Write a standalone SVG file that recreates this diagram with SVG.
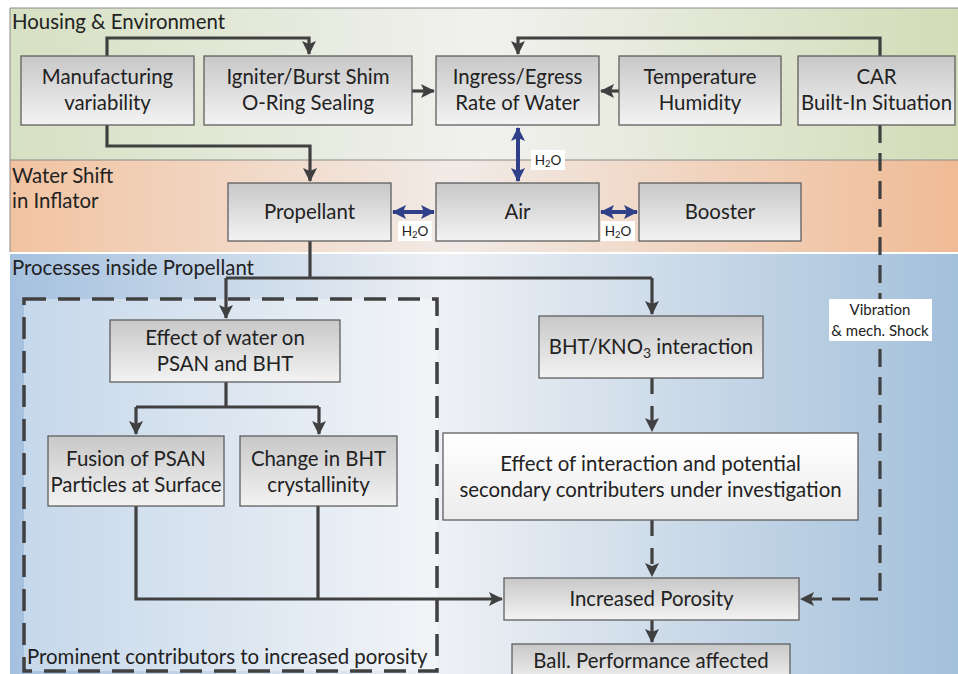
<svg xmlns="http://www.w3.org/2000/svg" width="958" height="674" viewBox="0 0 958 674">
<defs>
<linearGradient id="gHousing" x1="0" y1="0" x2="1" y2="0">
<stop offset="0" stop-color="#d6e0c2"/><stop offset="0.5" stop-color="#f1f1ef"/><stop offset="1" stop-color="#d2dcb7"/>
</linearGradient>
<linearGradient id="gWater" x1="0" y1="0" x2="1" y2="0">
<stop offset="0" stop-color="#f2c3a1"/><stop offset="0.47" stop-color="#f1ebe7"/><stop offset="1" stop-color="#f0bb95"/>
</linearGradient>
<linearGradient id="gProc" x1="0" y1="0" x2="1" y2="0">
<stop offset="0" stop-color="#a5c1df"/><stop offset="0.46" stop-color="#edf0f4"/><stop offset="1" stop-color="#a3c0db"/>
</linearGradient>
<linearGradient id="gBox" x1="0" y1="0" x2="0" y2="1">
<stop offset="0" stop-color="#c8c8c8"/><stop offset="1" stop-color="#f3f3f3"/>
</linearGradient>
<linearGradient id="gWhite" x1="0" y1="0" x2="0" y2="1">
<stop offset="0" stop-color="#ffffff"/><stop offset="1" stop-color="#ececec"/>
</linearGradient>
<marker id="ah" markerUnits="userSpaceOnUse" markerWidth="14" markerHeight="14" viewBox="0 0 14 14" refX="13" refY="7" orient="auto">
<path d="M0,0 L14,7 L0,14 L3,7 Z" fill="#404040"/>
</marker>
<marker id="bh" markerUnits="userSpaceOnUse" markerWidth="14" markerHeight="14" viewBox="0 0 14 14" refX="13" refY="7" orient="auto">
<path d="M0,0 L14,7 L0,14 L3,7 Z" fill="#2f3f88"/>
</marker>
<marker id="bt" markerUnits="userSpaceOnUse" markerWidth="14" markerHeight="14" viewBox="0 0 14 14" refX="1" refY="7" orient="auto">
<path d="M14,0 L0,7 L14,14 L11,7 Z" fill="#2f3f88"/>
</marker>
</defs>
<style>
.box{fill:url(#gBox);stroke:#5f5f5f;stroke-width:1.3}
.wbox{fill:url(#gWhite);stroke:#5f5f5f;stroke-width:1.3}
.t{font-family:Lato,"Liberation Sans",sans-serif;font-size:20.4px;fill:#222;text-anchor:middle}
.h{font-family:Lato,"Liberation Sans",sans-serif;font-size:20.4px;fill:#222}
.s{font-family:Lato,"Liberation Sans",sans-serif;font-size:13.5px;fill:#222;text-anchor:middle}
.c{fill:none;stroke:#404040;stroke-width:3.2}
.d{fill:none;stroke:#404040;stroke-width:3.2;stroke-dasharray:18 10}
.b{fill:none;stroke:#2f3f88;stroke-width:4}
</style>
<g id="bands">
<rect x="10" y="8" width="948" height="152" fill="url(#gHousing)"/>
<rect x="10" y="160" width="948" height="92" fill="url(#gWater)"/>
<rect x="10" y="254" width="948" height="420" fill="url(#gProc)"/>
<path d="M958,8 H10 V160 H958" fill="none" stroke="#8a8a8a" stroke-width="1"/>
<line x1="10" y1="160" x2="10" y2="252" stroke="#8a8a8a" stroke-width="1"/>
<text class="h" x="12" y="29">Housing &amp; Environment</text>
<text class="h" x="12" y="183">Water Shift</text>
<text class="h" x="12" y="208">in Inflator</text>
<text class="h" x="12" y="275">Processes inside Propellant</text>
</g>
<g id="group-prominent">
<rect x="24" y="299" width="413" height="372" fill="#ffffff" fill-opacity="0.35" stroke="#404040" stroke-width="3.5" stroke-dasharray="22 12"/>
<text class="h" x="27" y="664">Prominent contributors to increased porosity</text>
</g>
<g id="connectors">
<path class="c" d="M107,56 V38 H309 V54" marker-end="url(#ah)"/>
<path class="c" d="M107,125 V146 H310 V181" marker-end="url(#ah)"/>
<path class="c" d="M412,91 H434" marker-end="url(#ah)"/>
<path class="c" d="M619,91 H601" marker-end="url(#ah)"/>
<path class="c" d="M880,56 V38 H518 V54" marker-end="url(#ah)"/>
<path class="d" d="M880,125 V599 H801" marker-end="url(#ah)"/>
<path class="c" d="M310,241 V278"/>
<path class="c" d="M226,278 H652"/>
<path class="c" d="M226,278 V318" marker-end="url(#ah)"/>
<path class="c" d="M652,278 V314" marker-end="url(#ah)"/>
<path class="c" d="M226,382 V407"/>
<path class="c" d="M136,407 H319"/>
<path class="c" d="M136,407 V434" marker-end="url(#ah)"/>
<path class="c" d="M319,407 V434" marker-end="url(#ah)"/>
<path class="c" d="M136,506 V599 H502" marker-end="url(#ah)"/>
<path class="c" d="M318,506 V599"/>
<path class="d" d="M652,378 V431" marker-end="url(#ah)" style="stroke-dasharray:16 12"/>
<path class="d" d="M652,520 V576" marker-end="url(#ah)" style="stroke-dasharray:16 12"/>
<path class="c" d="M652,620 V642" marker-end="url(#ah)"/>
<path class="b" d="M518,128 V181" marker-start="url(#bt)" marker-end="url(#bh)"/>
<path class="b" d="M393,212 H434" marker-start="url(#bt)" marker-end="url(#bh)"/>
<path class="b" d="M601,212 H637" marker-start="url(#bt)" marker-end="url(#bh)"/>
<rect x="531" y="150" width="34" height="20" fill="#fff"/>
<text class="s" x="548" y="165">H<tspan font-size="9.5" dy="2">2</tspan><tspan dy="-2">O</tspan></text>
<rect x="398" y="221" width="34" height="20" fill="#fff"/>
<text class="s" x="415" y="236">H<tspan font-size="9.5" dy="2">2</tspan><tspan dy="-2">O</tspan></text>
<rect x="601" y="221" width="34" height="20" fill="#fff"/>
<text class="s" x="618" y="236">H<tspan font-size="9.5" dy="2">2</tspan><tspan dy="-2">O</tspan></text>
<rect x="829" y="299" width="103" height="42" fill="#fff"/>
<text class="s" x="880" y="315" style="font-size:15px">Vibration</text>
<text class="s" x="880" y="336" style="font-size:15px">&amp; mech. Shock</text>
</g>
<g id="n-manufacturing"><rect class="box" x="21" y="56" width="173" height="69"/><text class="t" x="107.5" y="84">Manufacturing</text><text class="t" x="107.5" y="110">variability</text></g>
<g id="n-igniter"><rect class="box" x="204" y="56" width="208" height="69"/><text class="t" x="308" y="84">Igniter/Burst Shim</text><text class="t" x="308" y="110">O-Ring Sealing</text></g>
<g id="n-ingress"><rect class="box" x="436" y="56" width="163" height="69"/><text class="t" x="517.5" y="84">Ingress/Egress</text><text class="t" x="517.5" y="110">Rate of Water</text></g>
<g id="n-temperature"><rect class="box" x="619" y="56" width="162" height="69"/><text class="t" x="700" y="84">Temperature</text><text class="t" x="700" y="110">Humidity</text></g>
<g id="n-car"><rect class="box" x="798" y="56" width="157" height="69"/><text class="t" x="876.5" y="84">CAR</text><text class="t" x="876.5" y="110">Built-In Situation</text></g>
<g id="n-propellant"><rect class="box" x="228" y="183" width="163" height="58"/><text class="t" x="309.5" y="219">Propellant</text></g>
<g id="n-air"><rect class="box" x="436" y="183" width="163" height="58"/><text class="t" x="517.5" y="219">Air</text></g>
<g id="n-booster"><rect class="box" x="639" y="183" width="162" height="58"/><text class="t" x="720" y="219">Booster</text></g>
<g id="n-effect-water"><rect class="box" x="110" y="320" width="230" height="62"/><text class="t" x="225" y="345">Effect of water on</text><text class="t" x="225" y="371">PSAN and BHT</text></g>
<g id="n-fusion"><rect class="box" x="48" y="436" width="176" height="70"/><text class="t" x="136" y="466">Fusion of PSAN</text><text class="t" x="136" y="492">Particles at Surface</text></g>
<g id="n-change"><rect class="box" x="240" y="436" width="157" height="70"/><text class="t" x="318.5" y="466">Change in BHT</text><text class="t" x="318.5" y="492">crystallinity</text></g>
<g id="n-bht-kno3"><rect class="box" x="539" y="316" width="224" height="62"/><text class="t" x="651" y="354">BHT/KNO<tspan font-size="14" dy="4">3</tspan><tspan dy="-4"> interaction</tspan></text></g>
<g id="n-effect-interaction"><rect class="wbox" x="443" y="433" width="415" height="87"/><text class="t" x="650.5" y="471">Effect of interaction and potential</text><text class="t" x="650.5" y="497">secondary contributers under investigation</text></g>
<g id="n-porosity"><rect class="box" x="504" y="578" width="295" height="42"/><text class="t" x="651.5" y="606">Increased Porosity</text></g>
<g id="n-ball"><rect class="box" x="512" y="644" width="278" height="40"/><text class="t" x="651" y="668">Ball. Performance affected</text></g>
</svg>
